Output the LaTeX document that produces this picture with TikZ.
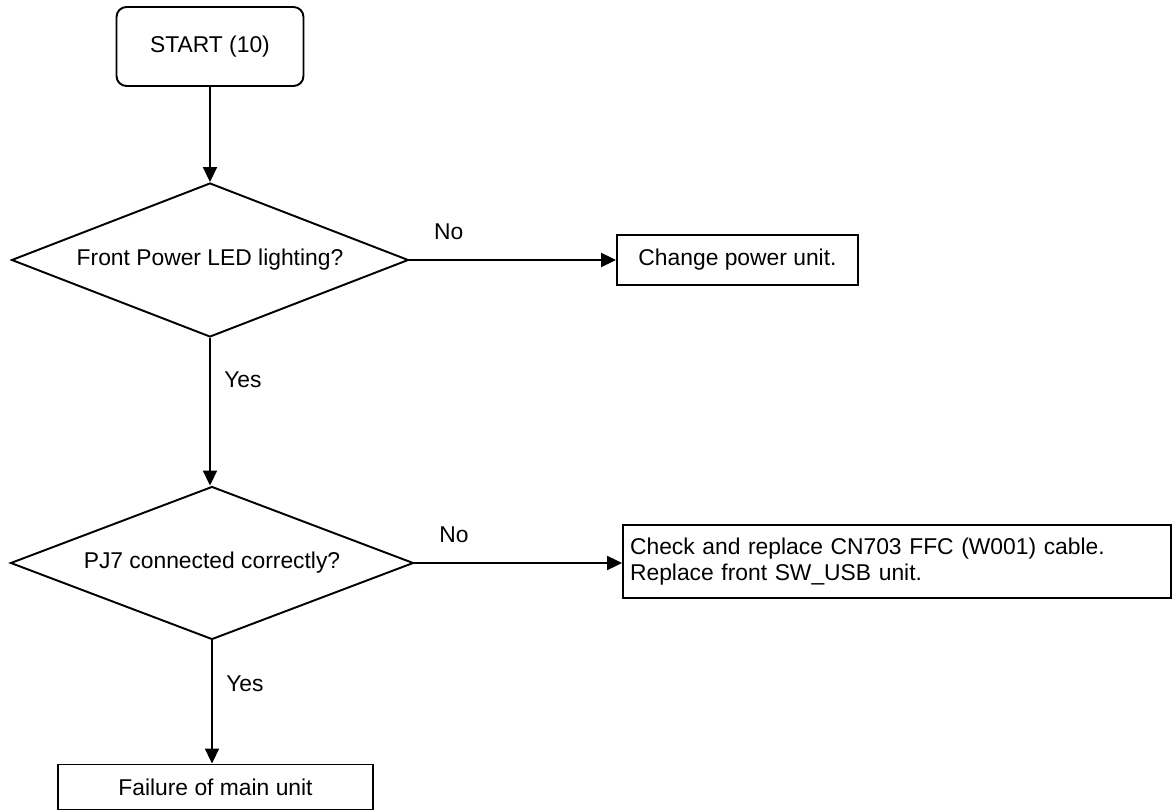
\documentclass[tikz,border=0pt]{standalone}
\usepackage{fontspec}
\setmainfont{Liberation Sans}
\usetikzlibrary{shapes.geometric, arrows.meta, positioning, calc}

\begin{document}
\begin{tikzpicture}[x=0.02cm, y=-0.02cm, line width=1.1pt,
  every node/.style={font=\fontsize{13}{14.5}\selectfont},
  box/.style={draw, rectangle, inner sep=0.14cm},
  decision/.style={draw, diamond, aspect=2.6, inner sep=0pt},
  flow/.style={-{Triangle[length=0.3cm, width=0.28cm]}}]
  \useasboundingbox (0,0) rectangle (1173,810);

  % Start
  \node[box, rounded corners=0.2cm, minimum width=3.74cm, minimum height=1.58cm] (start) at (210,46.5) {START (10)};

  % Power LED check
  \node[decision, minimum width=7.94cm, minimum height=3.08cm] (led) at (210,260) {Front Power LED lighting?};
  \node[box, minimum width=4.82cm, minimum height=1.0cm] (power) at (737.5,260) {Change power unit.};

  % PJ7 check
  \node[decision, minimum width=8.06cm, minimum height=3.06cm] (pj7) at (212,563) {PJ7 connected correctly?};
  \node[box, minimum width=10.96cm, minimum height=1.46cm, text width=10.68cm, align=left] (cable) at (897,561.5) {Check and replace CN703 FFC (W001) cable.\\Replace front SW\_USB unit.};

  \node[box, minimum width=6.3cm, minimum height=0.9cm] (fail) at (215.5,787) {Failure of main unit};

  % Connectors
  \draw[flow] (start) -- (led);
  \draw[flow] (led) -- node[pos=0.19, above=0.26cm] {No} (power);
  \draw[flow] (led.south) -- node[pos=0.28, right=0.15cm] {Yes} (led.south |- pj7.north);
  \draw[flow] (pj7.east) -- node[pos=0.19, above=0.26cm] {No} (pj7.east -| cable.west);
  \draw[flow] (pj7.south) -- node[pos=0.35, right=0.15cm] {Yes} (pj7.south |- fail.north);
\end{tikzpicture}
\end{document}
